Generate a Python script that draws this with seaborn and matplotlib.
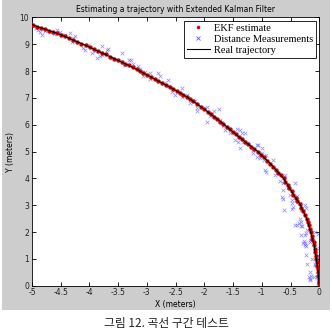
import matplotlib
matplotlib.use('Agg')
import matplotlib.pyplot as plt
import seaborn as sns
from matplotlib.lines import Line2D
from matplotlib.patches import Rectangle

# real trajectory
true_x = [-5.0, -4.5, -4.11, -3.5, -3.12, -2.6, -2.31, -2.0, -1.72, -1.4, -1.07,
          -0.85, -0.62, -0.45, -0.34, -0.22, -0.15, -0.09, -0.05, -0.02, 0.0]
true_y = [9.73, 9.36, 9.0, 8.4, 8.0, 7.4, 7.05, 6.58, 6.12, 5.55, 5.0,
          4.55, 4.0, 3.4, 3.05, 2.5, 2.0, 1.5, 1.0, 0.5, 0.05]

# EKF estimate
ekf_x = [-4.98, -4.91, -4.84, -4.77, -4.70, -4.63, -4.56,
         -4.49, -4.42, -4.35, -4.28, -4.21, -4.14,
         -4.06, -3.99, -3.92, -3.85, -3.78, -3.71, -3.64, -3.57, -3.51,
         -3.44, -3.38, -3.31, -3.25, -3.18, -3.12,
         -3.06, -2.99, -2.93, -2.86, -2.80, -2.73, -2.67, -2.60,
         -2.54, -2.48, -2.43, -2.37, -2.31,
         -2.25, -2.19, -2.12, -2.06, -2.0,
         -1.94, -1.89, -1.83, -1.78, -1.72,
         -1.67, -1.61, -1.56, -1.51, -1.45, -1.40,
         -1.35, -1.29, -1.24, -1.18, -1.13, -1.07,
         -1.02, -0.96, -0.91, -0.85,
         -0.80, -0.76, -0.71, -0.67, -0.62,
         -0.59, -0.55, -0.52, -0.48, -0.45,
         -0.41, -0.38, -0.34,
         -0.31, -0.28, -0.25, -0.22,
         -0.20, -0.18, -0.17, -0.15,
         -0.13, -0.12, -0.10, -0.09,
         -0.08, -0.07, -0.06, -0.05,
         -0.04, -0.035, -0.03, -0.02,
         -0.015, -0.01, -0.005, 0.0]
ekf_y = [9.72, 9.66, 9.62, 9.57, 9.51, 9.47, 9.41,
         9.36, 9.30, 9.24, 9.16, 9.10, 9.03,
         8.96, 8.89, 8.82, 8.76, 8.68, 8.62, 8.54, 8.47, 8.41,
         8.34, 8.28, 8.21, 8.14, 8.07, 8.0,
         7.93, 7.85, 7.78, 7.70, 7.63, 7.55, 7.48, 7.40,
         7.33, 7.26, 7.19, 7.12, 7.05,
         6.96, 6.87, 6.77, 6.67, 6.58,
         6.49, 6.40, 6.30, 6.21, 6.12,
         6.03, 5.93, 5.84, 5.74, 5.64, 5.55,
         5.46, 5.36, 5.27, 5.18, 5.09, 5.0,
         4.89, 4.78, 4.66, 4.55,
         4.44, 4.33, 4.22, 4.11, 4.0,
         3.88, 3.76, 3.64, 3.52, 3.40,
         3.28, 3.17, 3.05,
         2.91, 2.77, 2.64, 2.50,
         2.38, 2.25, 2.13, 2.0,
         1.87, 1.75, 1.62, 1.50,
         1.37, 1.25, 1.12, 1.0,
         0.87, 0.75, 0.62, 0.50,
         0.37, 0.25, 0.12, 0.05]

# distance measurements
meas_x = [-4.96, -4.93, -4.89, -4.86, -4.83, -4.77, -4.69, -4.62, -4.57, -4.52,
          -4.48, -4.43, -4.34, -4.31, -4.28, -4.25, -4.11, -4.08, -4.02, -3.96,
          -3.90, -3.87, -3.82, -3.79, -3.79, -3.70, -3.67, -3.61, -3.44, -3.38,
          -3.32, -3.27, -3.24, -3.15, -3.12, -3.07, -3.03, -2.95, -2.95, -2.80,
          -2.77, -2.71, -2.63, -2.63, -2.57, -2.51, -2.39, -2.39, -2.31, -2.25,
          -2.16, -2.13, -2.13, -1.96, -1.95, -1.90, -1.84, -1.74, -1.73, -1.70,
          -1.67, -1.64, -1.55, -1.47, -1.44, -1.41, -1.38, -1.38, -1.35, -1.32,
          -1.29, -1.26, -1.15, -1.15, -1.09, -1.09, -1.06, -1.03, -1.00, -1.00,
          -0.97, -0.94, -0.92, -0.92, -0.80, -0.77, -0.68, -0.65, -0.63, -0.63,
          -0.63, -0.61, -0.60, -0.54, -0.51, -0.48, -0.48, -0.48, -0.46, -0.42,
          -0.42, -0.39, -0.39, -0.37, -0.36, -0.34, -0.34, -0.31, -0.31, -0.31,
          -0.31, -0.30, -0.28, -0.27, -0.25, -0.25, -0.25, -0.24, -0.23, -0.23,
          -0.23, -0.23, -0.22, -0.21, -0.18, -0.17, -0.17, -0.16, -0.16, -0.16,
          -0.15, -0.13, -0.10, -0.08, -0.08, -0.07, -0.07, -0.04, -0.03, -0.02,
          -0.02, -0.02, -0.01, 0.0]
meas_y = [9.70, 9.62, 9.54, 9.45, 9.35, 9.48, 9.46, 9.40, 9.54, 9.45,
          9.35, 9.33, 9.42, 9.10, 9.23, 9.32, 8.86, 8.80, 8.98, 8.67,
          8.76, 8.49, 8.55, 8.61, 8.92, 8.80, 8.82, 8.49, 8.67, 8.24,
          8.42, 8.40, 8.27, 8.20, 8.07, 7.80, 7.96, 7.93, 7.70, 7.93,
          7.80, 7.55, 7.68, 7.43, 7.24, 7.12, 7.37, 7.05, 7.12, 6.81,
          6.88, 6.63, 6.50, 6.09, 6.68, 6.31, 6.50, 6.58, 6.18, 6.12,
          5.94, 5.81, 5.69, 5.44, 5.84, 5.37, 5.81, 5.13, 5.69, 5.37,
          5.69, 5.31, 4.94, 5.06, 4.81, 5.25, 5.25, 4.75, 4.94, 5.13,
          4.69, 4.32, 4.88, 4.25, 4.69, 4.13, 3.89, 3.32, 3.82, 3.57,
          3.22, 2.82, 4.13, 3.63, 3.38, 3.20, 3.07, 2.85, 2.95, 3.82,
          2.26, 3.35, 2.26, 3.13, 2.33, 3.07, 2.48, 2.82, 2.39, 2.21,
          1.89, 2.23, 1.58, 1.65, 3.01, 1.52, 1.60, 1.89, 2.89, 1.96,
          1.48, 1.15, 2.08, 0.81, 0.34, 1.71, 0.24, 1.62, 0.52, 0.21,
          0.36, 0.99, 0.31, 2.01, 0.77, 1.21, 0.80, 0.34, 0.15, 1.93,
          0.71, 1.15, 1.40, 1.0]

fig = plt.figure(figsize=(3.32, 3.33), dpi=100)
fig.patch.set_facecolor('white')
fig.patches.append(Rectangle((0.006, 0.069), 0.988, 0.931, transform=fig.transFigure,
                             facecolor='#cdcdcd', edgecolor='none', zorder=-5))
ax = fig.add_axes([0.0964, 0.142, 0.8653, 0.8055])
ax.set_zorder(2)
ax.set_facecolor('white')

sns.scatterplot(x=meas_x, y=meas_y, ax=ax, marker='x', color='#5a5aff',
                s=7, linewidth=0.55, alpha=0.65, zorder=2)
sns.scatterplot(x=ekf_x, y=ekf_y, ax=ax, marker='o', color='#d40000',
                s=10, linewidth=0, zorder=3)
sns.lineplot(x=true_x, y=true_y, ax=ax, sort=False, estimator=None,
             color='black', linewidth=0.8, zorder=4)

ax.set_xlim(-5, 0)
ax.set_ylim(0, 10)
ax.set_xticks([-5, -4.5, -4, -3.5, -3, -2.5, -2, -1.5, -1, -0.5, 0])
ax.set_xticklabels(['-5', '-4.5', '-4', '-3.5', '-3', '-2.5', '-2', '-1.5', '-1', '-0.5', '0'])
ax.set_yticks(range(0, 11))
ax.tick_params(direction='in', top=True, right=True, length=3, width=0.6,
               labelsize=5.5, pad=2, labelcolor='#222222')
for sp in ax.spines.values():
    sp.set_linewidth(0.6)
    sp.set_color('black')

ax.set_title('Estimating a trajectory with Extended Kalman Filter', fontsize=5.5, pad=4)
ax.set_xlabel('X (meters)', fontsize=5.5, labelpad=2)
ax.set_ylabel('Y (meters)', fontsize=5.5, labelpad=3)

handles = [Line2D([], [], marker='.', color='#d40000', linestyle='none', markersize=3),
           Line2D([], [], marker='x', color='#5a5aff', linestyle='none', markersize=2.5,
                  markeredgewidth=0.6),
           Line2D([], [], color='black', linewidth=0.8)]
leg = ax.legend(handles, ['EKF estimate', 'Distance Measurements', 'Real trajectory'],
                loc='upper right', prop={'family': 'Liberation Serif', 'size': 7.5},
                frameon=True, fancybox=False, edgecolor='black', framealpha=1,
                borderaxespad=0.3, handlelength=2.2, handletextpad=0.4,
                labelspacing=0.15, borderpad=0.3)
leg.get_frame().set_linewidth(0.6)

fig.text(0.5, 0.03, '그림 12. 곡선 구간 테스트', family=['Noto Sans CJK KR', 'DejaVu Sans'],
         fontsize=8.5, ha='center', va='center', color='#222222')

fig.savefig('out.png', dpi=100)
